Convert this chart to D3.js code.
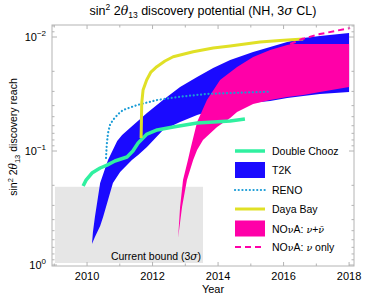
<!DOCTYPE html>
<html><head><meta charset="utf-8">
<script src="https://cdn.jsdelivr.net/npm/d3@7"></script>
<style>body{margin:0;background:#fff}svg{display:block}text{font-family:"Liberation Sans",Arial,sans-serif;fill:#000}</style>
</head><body><svg id="c" width="374" height="300"></svg>
<script>
// ---- data: [year, sin^2 2theta13 reach] ----
const doubleChooz = [[2009.88,0.203],[2009.97,0.180],[2010.15,0.156],[2010.40,0.141],[2010.61,0.133],[2010.85,0.1224],[2011.22,0.1129],[2011.40,0.100],[2011.56,0.0851],[2011.83,0.0710],[2012.14,0.0654],[2012.63,0.0616],[2013.36,0.0568],[2014.37,0.0546],[2014.82,0.0524]];
const dayaBay = [[2011.65,0.0769],[2011.66,0.0535],[2011.67,0.0379],[2011.71,0.0292],[2011.82,0.0238],[2011.95,0.0203],[2012.13,0.0182],[2012.38,0.01624],[2012.63,0.01489],[2013.24,0.01346],[2013.85,0.01248],[2014.37,0.01199],[2015.28,0.01106],[2015.89,0.01073],[2016.60,0.01042]];
const reno = [[2010.58,0.1151],[2010.60,0.0886],[2010.64,0.0695],[2010.70,0.0591],[2010.79,0.0535],[2010.95,0.0474],[2011.10,0.0437],[2011.53,0.0395],[2012.14,0.0357],[2012.84,0.0334],[2013.66,0.0316],[2014.37,0.0310],[2015.53,0.0302]];
const t2kBest = [[2010.15,0.654],[2010.18,0.514],[2010.24,0.379],[2010.40,0.191],[2010.64,0.120],[2010.92,0.0817],[2011.07,0.0724],[2011.31,0.0629],[2011.83,0.0464],[2012.32,0.0357],[2012.84,0.0275],[2013.36,0.0224],[2013.85,0.0187],[2014.37,0.0159],[2015.07,0.01354],[2015.59,0.01224],[2016.11,0.01106],[2016.60,0.01020],[2017.11,0.00980],[2018.0,0.00923]];
const t2kWorst = [[2010.15,0.654],[2010.24,0.568],[2010.40,0.455],[2010.49,0.379],[2010.79,0.191],[2011.01,0.153],[2011.37,0.120],[2011.56,0.1084],[2011.83,0.0922],[2012.32,0.0654],[2012.84,0.0557],[2013.36,0.0483],[2013.85,0.0437],[2014.37,0.0403],[2014.98,0.0379],[2015.59,0.0364],[2016.11,0.0343],[2016.60,0.0329],[2017.11,0.0316],[2018.0,0.0304]];
const novaBest = [[2012.78,0.580],[2012.84,0.310],[2012.93,0.180],[2013.08,0.120],[2013.15,0.098],[2013.36,0.0557],[2013.66,0.0357],[2014.06,0.0238],[2014.58,0.0183],[2015.07,0.0150],[2015.59,0.0130],[2016.11,0.01175],[2016.26,0.01151],[2018.0,0.01151]];
const novaWorst = [[2012.78,0.580],[2012.90,0.310],[2013.05,0.180],[2013.24,0.120],[2013.36,0.098],[2013.54,0.0801],[2013.97,0.0616],[2014.37,0.0514],[2014.58,0.0455],[2015.07,0.0387],[2015.59,0.0357],[2016.11,0.0336],[2016.60,0.0323],[2017.11,0.0304],[2018.0,0.0275]];
const novaNuOnly = [[2016.20,0.01151],[2016.35,0.01106],[2016.56,0.01042],[2017.11,0.00942],[2017.57,0.00886],[2018.03,0.00834]];
const currentBound = {x0:2009.02, x1:2013.54, lo:0.206, hi:0.96};
const xTickYears = [2009,2010,2011,2012,2013,2014,2015,2016,2017,2018];
const xTickLabels = [2010,2012,2014,2016,2018];
const yDecades = [-2,-1,0];
const legendItems = [
  {name:"Double Chooz", kind:"line", color:"#30f0a0", w:3.5, dash:null, cap:"butt"},
  {name:"T2K", kind:"rect", color:"#1a0aff"},
  {name:"RENO", kind:"line", color:"#1a9cd6", w:2.2, dash:"0.1,3.6", cap:"round"},
  {name:"Daya Bay", kind:"line", color:"#e0e026", w:3, dash:null, cap:"butt"},
  {name:"NOvA: nu+nubar", kind:"rect", color:"#ff00a8"},
  {name:"NOvA: nu only", kind:"line", color:"#ff00a8", w:2, dash:"6,4", cap:"butt"}
];

// ---- layout ----
const L=52,R=354,T=25,B=266;
const svg=d3.select("#c");
const x=d3.scaleLinear().domain([2008.93,2018.15]).range([L,R]);
const y=d3.scaleLog().domain([1,0.01]).range([265,37]);
const line=d3.line().x(d=>x(d[0])).y(d=>y(d[1]));

svg.append("clipPath").attr("id","pc").append("rect").attr("x",L).attr("y",T).attr("width",R-L).attr("height",B-T);
const g=svg.append("g").attr("clip-path","url(#pc)");

// current bound
g.append("rect").attr("x",x(currentBound.x0)).attr("y",y(currentBound.lo))
 .attr("width",x(currentBound.x1)-x(currentBound.x0)).attr("height",y(currentBound.hi)-y(currentBound.lo))
 .attr("fill","#e6e6e6");
svg.append("text").attr("x",x(currentBound.x1)-2).attr("y",y(currentBound.hi)-3).attr("text-anchor","end")
 .attr("font-size",10.5).html('Current bound (3<tspan font-family="DejaVu Serif" font-style="italic">σ</tspan>)');

function band(a,b){return line(a.concat(b.slice().reverse()))+"Z";}
g.append("path").attr("d",band(t2kBest,t2kWorst)).attr("fill",legendItems[1].color);
g.append("path").attr("d",band(novaBest,novaWorst)).attr("fill",legendItems[4].color);
function drawLine(data,it){
  g.append("path").attr("d",line(data)).attr("fill","none").attr("stroke",it.color)
   .attr("stroke-width",it.w).attr("stroke-dasharray",it.dash).attr("stroke-linecap",it.cap).attr("stroke-linejoin","round");
}
drawLine(doubleChooz,legendItems[0]);
drawLine(reno,legendItems[2]);
drawLine(dayaBay,legendItems[3]);
drawLine(novaNuOnly,legendItems[5]);

// frame
const axc="#b4b4b4";
svg.append("rect").attr("x",L).attr("y",T).attr("width",R-L).attr("height",B-T).attr("fill","none").attr("stroke",axc).attr("stroke-width",1);
// x ticks
xTickYears.forEach(yr=>{
  const px=x(yr), len=(yr%2===0)?4:2.5;
  svg.append("line").attr("x1",px).attr("x2",px).attr("y1",B).attr("y2",B-len).attr("stroke",axc);
  svg.append("line").attr("x1",px).attr("x2",px).attr("y1",T).attr("y2",T+len).attr("stroke",axc);
});
xTickLabels.forEach(yr=>{
  svg.append("text").attr("x",x(yr)).attr("y",B+14).attr("text-anchor","middle").attr("font-size",11).text(yr);
});
// y ticks
const minorVals=[];
for(let e=-3;e<=0;e++){for(let m=1;m<10;m++){const v=m*Math.pow(10,e);if(v>=0.0079&&v<=1.0)minorVals.push([v,m===1]);}}
minorVals.forEach(([v,maj])=>{
  const py=y(v), len=maj?5:2.5;
  svg.append("line").attr("x1",L).attr("x2",L+len).attr("y1",py).attr("y2",py).attr("stroke",axc);
  svg.append("line").attr("x1",R).attr("x2",R-len).attr("y1",py).attr("y2",py).attr("stroke",axc);
});
yDecades.forEach(e=>{
  const t=svg.append("text").attr("x",46).attr("y",y(Math.pow(10,e))+4).attr("text-anchor","end").attr("font-size",11);
  t.append("tspan").text("10");
  t.append("tspan").attr("dy",-5).attr("font-size",8).text(e===0?"0":"\u2212"+(-e));
});
// title
svg.append("text").attr("x",203).attr("y",15).attr("text-anchor","middle").attr("font-size",12.5)
 .html('sin<tspan dy="-5" font-size="8.5">2</tspan><tspan dy="5"> 2</tspan><tspan font-family="DejaVu Serif" font-style="italic">θ</tspan><tspan dy="3" font-size="8.5">13</tspan><tspan dy="-3"> discovery potential (NH, 3</tspan><tspan font-family="DejaVu Serif" font-style="italic">σ</tspan> CL)');
// axis labels
svg.append("text").attr("x",213).attr("y",293).attr("text-anchor","middle").attr("font-size",11).text("Year");
svg.append("text").attr("transform","translate(17,137) rotate(-90)").attr("text-anchor","middle").attr("font-size",10.5)
 .html('sin<tspan dy="-4.5" font-size="7.5">2</tspan><tspan dy="4.5"> 2</tspan><tspan font-family="DejaVu Serif" font-style="italic">θ</tspan><tspan dy="2.5" font-size="7.5">13</tspan><tspan dy="-2.5"> discovery reach</tspan>');

// legend
const lg=svg.append("g");
const ly=[151,170,190,209,228.5,247];
legendItems.forEach((it,i)=>{
  if(it.kind==="rect"){
    lg.append("rect").attr("x",235).attr("y",ly[i]-8).attr("width",30).attr("height",16).attr("fill",it.color);
  } else {
    lg.append("line").attr("x1",235).attr("x2",265).attr("y1",ly[i]).attr("y2",ly[i]).attr("stroke",it.color)
      .attr("stroke-width",it.w).attr("stroke-dasharray",it.dash).attr("stroke-linecap",it.cap);
  }
  const t=lg.append("text").attr("x",272).attr("y",ly[i]+4).attr("font-size",10.5);
  if(i===4){
    t.html('NO<tspan font-family="DejaVu Serif" font-size="9.5">ν</tspan>A: <tspan font-family="DejaVu Serif" font-style="italic" font-size="9.5">ν</tspan>+<tspan font-family="DejaVu Serif" font-style="italic" font-size="9.5">ν̄</tspan>');
  } else if(i===5){
    t.html('NO<tspan font-family="DejaVu Serif" font-size="9.5">ν</tspan>A: <tspan font-family="DejaVu Serif" font-style="italic" font-size="9.5">ν</tspan> only');
  } else t.text(it.name);
});
</script></body></html>
